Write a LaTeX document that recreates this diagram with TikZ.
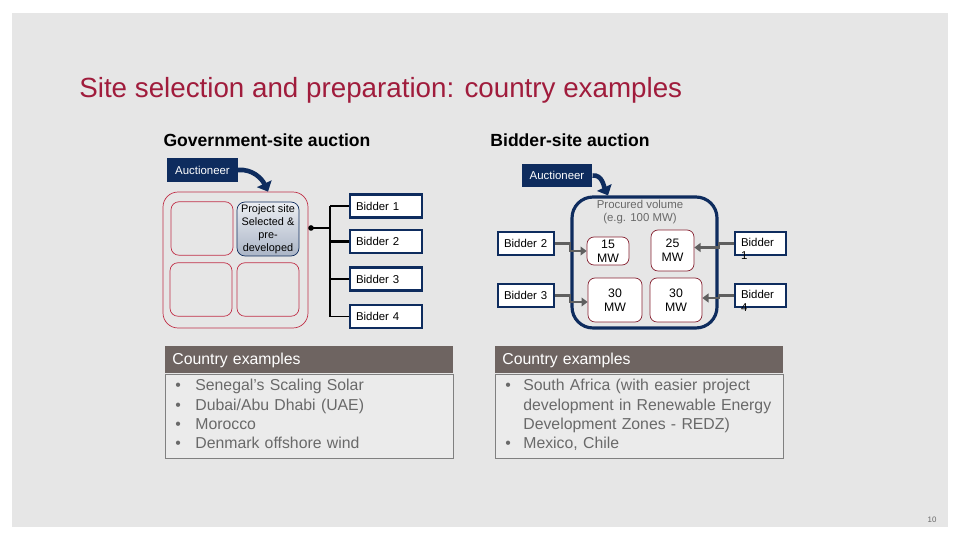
\documentclass[tikz,border=0pt]{standalone}
\usepackage{fontspec}
\setmainfont{Liberation Sans}
\usetikzlibrary{arrows.meta, positioning}
\definecolor{slidebg}{RGB}{230,230,230}
\definecolor{navy}{RGB}{14,44,94}
\definecolor{titlered}{RGB}{160,28,60}
\definecolor{sitered}{RGB}{192,48,72}
\definecolor{headgray}{RGB}{110,100,97}
\definecolor{textgray}{RGB}{105,105,105}
\definecolor{feedgray}{RGB}{95,95,95}

\begin{document}
\begin{tikzpicture}[x=0.02cm, y=-0.02cm,
	auctbox/.style={rectangle, fill=navy, text=white, minimum width=1.41cm, minimum height=0.47cm, inner sep=0pt, font=\fontsize{6.5}{7.5}\selectfont},
	sitebox/.style={rectangle, draw=sitered, rounded corners=0.16cm, minimum width=1.24cm, minimum height=1.07cm, inner sep=0pt},
	projbox/.style={rectangle, draw=navy, rounded corners=0.16cm, minimum width=1.24cm, minimum height=1.08cm, inner sep=0pt, top color=navy!8, bottom color=navy!35, align=center, font=\fontsize{6.2}{7.4}\selectfont},
	bidbox/.style={rectangle, draw=navy, line width=1.3pt, fill=white, minimum height=0.46cm, inner xsep=0.12cm, inner ysep=0pt, text width=#1, align=left, font=\fontsize{6.5}{7.5}\selectfont},
	mwbox/.style={rectangle, draw=sitered!70!black, fill=white, rounded corners=0.14cm, inner sep=0pt, align=center, font=\fontsize{7}{8}\selectfont},
	swoosh/.style={navy, line width=2.6pt, -{Triangle[length=5pt, width=9pt]}},
	feed/.style={feedgray, line width=1.2pt, -{Triangle[length=3.5pt, width=5pt]}},
	headbox/.style={rectangle, fill=headgray, text=white, minimum width=5.76cm, minimum height=0.54cm, inner xsep=0.14cm, text width=5.48cm, text height=6pt, text depth=0.5pt, align=left, font=\fontsize{9}{11}\selectfont},
	listbox/.style={rectangle, draw=gray, fill=slidebg!80!white, minimum width=5.76cm, minimum height=1.68cm, inner xsep=0.2cm, inner ysep=0pt, text width=5.36cm, align=left, text=textgray, font=\fontsize{9}{11}\selectfont}
	]
	\useasboundingbox (0,0) rectangle (960,540);
	\fill[white] (0,0) rectangle (960,540);
	\fill[slidebg] (12,13) rectangle (948,527);

	\node[anchor=base west, inner sep=0pt, text=titlered, font=\fontsize{15.8}{18}\selectfont] (title) at (79,97.5) {Site selection and preparation: country examples};
	\node[font=\bfseries\fontsize{10}{12}\selectfont] (govhead) at (267,140) {Government-site auction};
	\node[font=\bfseries\fontsize{10}{12}\selectfont] (bidhead) at (570,140) {Bidder-site auction};

	\node[auctbox] (aucL) at (202.5,170) {Auctioneer};
	\node[rectangle, draw=sitered, rounded corners=0.3cm, minimum width=2.9cm, minimum height=2.72cm] (site) at (235.5,260) {};
	\node[sitebox] (s1) at (202,228.5) {};
	\node[projbox] (proj) at (268,229) {Project site\\Selected \&\\pre-\\developed};
	\node[sitebox] (s3) at (201,289.5) {};
	\node[sitebox] (s4) at (268,289.5) {};
	\draw[swoosh] (aucL.east) to[out=5, in=115] (proj.north |- site.north);

	\node[bidbox=1.2cm] (b1) at (386,206) {Bidder 1};
	\node[bidbox=1.2cm] (b2) at (386,241.5) {Bidder 2};
	\node[bidbox=1.2cm] (b3) at (386,279) {Bidder 3};
	\node[bidbox=1.2cm] (b4) at (386,316.5) {Bidder 4};
	\coordinate (dot) at (311,228);
	\coordinate (fork) at (330,228);
	\fill (dot) circle (1.6pt);
	\draw[line width=1.4pt] (dot) -- (fork);
	\draw[line width=1.4pt] (fork |- b1) -- (fork |- b3);
	\draw[line width=0.6pt] (fork |- b3) -- (fork |- b4) -- (b4);
	\foreach \b in {b1, b2, b3}
		\draw[line width=1.4pt] (fork |- \b) -- (\b);

	\node[auctbox] (aucR) at (557,175.5) {Auctioneer};
	\node[rectangle, draw=navy, line width=1.8pt, rounded corners=0.42cm, minimum width=2.9cm, minimum height=2.62cm] (big) at (644.5,262.5) {};
	\node[text=textgray, align=center, font=\fontsize{6.5}{7.6}\selectfont] (procured) at (640,212) {Procured volume\\(e.g. 100 MW)};
	\node[mwbox, minimum width=0.84cm, minimum height=0.56cm] (m15) at (608,251) {15\\MW};
	\node[mwbox, minimum width=0.86cm, minimum height=0.82cm] (m25) at (672.5,250.5) {25\\MW};
	\node[mwbox, minimum width=1.08cm, minimum height=0.88cm] (m30a) at (615,300) {30\\MW};
	\node[mwbox, minimum width=1.04cm, minimum height=0.88cm] (m30b) at (676,300) {30\\MW};
	\draw[swoosh] (aucR.east) to[out=5, in=115] (m15.north |- big.north);

	\node[bidbox=0.88cm] (rb2) at (526,243.5) {Bidder 2};
	\node[bidbox=0.88cm] (rb3) at (526,295.5) {Bidder 3};
	\node[bidbox=0.78cm, text height=4.8pt, text depth=1.4pt] (rb1) at (760.5,243.5) {\smash{\begin{tabular}[t]{@{}l@{}}Bidder\\1\end{tabular}}};
	\node[bidbox=0.78cm, text height=4.8pt, text depth=1.4pt] (rb4) at (760.5,295.5) {\smash{\begin{tabular}[t]{@{}l@{}}Bidder\\4\end{tabular}}};
	\draw[feed] (rb2.east) -- (rb2.east -| big.west) |- (m15);
	\draw[feed] (rb3.east) -- (rb3.east -| big.west) |- ([yshift=-0.04cm]m30a.west);
	\draw[feed] (rb1.west) -- (rb1.west -| big.east) |- ([yshift=0.06cm]m25.east);
	\draw[feed] (rb4.west) -- (rb4.west -| big.east) |- ([yshift=0.04cm]m30b.east);

	\node[headbox, anchor=north west] (hdL) at (165,346) {Country examples};
	\node[listbox, anchor=north] (lsL) at (hdL.south) {%
		\begin{tabular}{@{}p{0.4cm}@{}l@{}}
		\textbullet & Senegal's Scaling Solar\\
		\textbullet & Dubai/Abu Dhabi (UAE)\\
		\textbullet & Morocco\\
		\textbullet & Denmark offshore wind
		\end{tabular}};
	\node[headbox, anchor=north west] (hdR) at (495,346) {Country examples};
	\node[listbox, anchor=north] (lsR) at (hdR.south) {%
		\begin{tabular}{@{}p{0.36cm}@{}l@{}}
		\textbullet & South Africa (with easier project\\
		 & development in Renewable Energy\\
		 & Development Zones - REDZ)\\
		\textbullet & Mexico, Chile
		\end{tabular}};

	\node[text=textgray, font=\fontsize{4.5}{5}\selectfont] (page) at (932,520) {10};
\end{tikzpicture}
\end{document}
